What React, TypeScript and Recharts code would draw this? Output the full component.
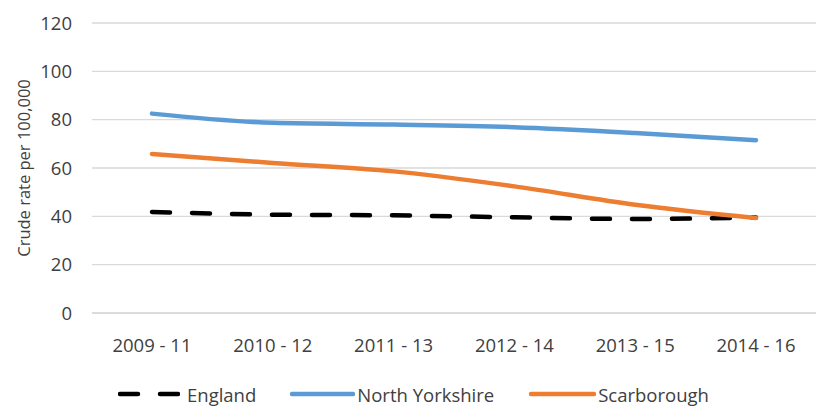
import React from "react";
import {
  LineChart,
  Line,
  XAxis,
  YAxis,
  CartesianGrid,
  Legend,
  Label,
} from "recharts";

const periods = ["2009 - 11", "2010 - 12", "2011 - 13", "2012 - 14", "2013 - 15", "2014 - 16"];
const england = [41.8, 40.7, 40.4, 39.6, 38.9, 39.5];
const northYorkshire = [82.5, 78.7, 78.0, 76.9, 74.5, 71.5];
const scarborough = [65.8, 62.1, 58.6, 52.4, 44.8, 39.3];
const yTicks = [0, 20, 40, 60, 80, 100, 120];

const data = periods.map((period, i) => ({
  period,
  england: england[i],
  northYorkshire: northYorkshire[i],
  scarborough: scarborough[i],
}));

const FONT = "'Open Sans', sans-serif";
const TEXT = "#404040";

const legendItems = [
  { name: "England", color: "#000000", dash: "18 22", width: 62, gap: 7 },
  { name: "North Yorkshire", color: "#5B9BD5", dash: undefined, width: 65, gap: 2 },
  { name: "Scarborough", color: "#ED7D31", dash: undefined, width: 67, gap: 2 },
];

function ChartLegend() {
  return (
    <div
      style={{
        display: "flex",
        alignItems: "center",
        height: 28,
        paddingLeft: 118,
        fontFamily: FONT,
        fontSize: 18.5,
        color: TEXT,
      }}
    >
      {legendItems.map((item, i) => (
        <div
          key={item.name}
          style={{ display: "flex", alignItems: "center", marginRight: i === 0 ? 34 : 35 }}
        >
          <svg width={item.width} height={10} style={{ marginRight: item.gap }}>
            <line
              x1={2}
              y1={5}
              x2={item.width - 2}
              y2={5}
              stroke={item.color}
              strokeWidth={4.5}
              strokeLinecap="round"
              strokeDasharray={item.dash}
            />
          </svg>
          <span>{item.name}</span>
        </div>
      ))}
    </div>
  );
}

// rotated axis title, centred on the plot height
function AxisTitle(props: any) {
  const { viewBox } = props;
  const x = viewBox.x + 23;
  const y = viewBox.y + viewBox.height / 2;
  return (
    <text
      x={x}
      y={y}
      transform={`rotate(-90, ${x}, ${y})`}
      textAnchor="middle"
      dominantBaseline="central"
      style={{ fontFamily: FONT, fontSize: 16.5, fill: TEXT }}
    >
      Crude rate per 100,000
    </text>
  );
}

export default function App() {
  return (
    <div style={{ position: "absolute", left: 0, top: 0, width: 824, height: 408, background: "#fff" }}>
      <style>{`body{margin:0}`}</style>
      <LineChart
        width={824}
        height={408}
        data={data}
        margin={{ top: 23, right: 8, bottom: 0, left: 0 }}
      >
        <CartesianGrid vertical={false} stroke="#d9d9d9" strokeWidth={1.3} />
        <XAxis
          dataKey="period"
          height={67}
          padding={{ left: 60, right: 60 }}
          axisLine={{ stroke: "#d9d9d9", strokeWidth: 1.3 }}
          tickLine={false}
          tickMargin={20}
          tick={{ fontFamily: FONT, fontSize: 18.5, fill: TEXT }}
        />
        <YAxis
          width={92}
          domain={[0, 120]}
          ticks={yTicks}
          axisLine={false}
          tickLine={false}
          tickMargin={14}
          tick={{ fontFamily: FONT, fontSize: 18.5, fill: TEXT }}
        >
          <Label content={<AxisTitle />} />
        </YAxis>
        <Legend verticalAlign="bottom" wrapperStyle={{ left: 0, width: 824 }} content={() => <ChartLegend />} />
        <Line
          type="monotone"
          dataKey="england"
          name="England"
          stroke="#000000"
          strokeWidth={4.5}
          strokeDasharray="18 22"
          strokeLinecap="round"
          dot={false}
          isAnimationActive={false}
        />
        <Line
          type="monotone"
          dataKey="northYorkshire"
          name="North Yorkshire"
          stroke="#5B9BD5"
          strokeWidth={4.5}
          strokeLinecap="round"
          dot={false}
          isAnimationActive={false}
        />
        <Line
          type="monotone"
          dataKey="scarborough"
          name="Scarborough"
          stroke="#ED7D31"
          strokeWidth={4.5}
          strokeLinecap="round"
          dot={false}
          isAnimationActive={false}
        />
      </LineChart>
    </div>
  );
}
